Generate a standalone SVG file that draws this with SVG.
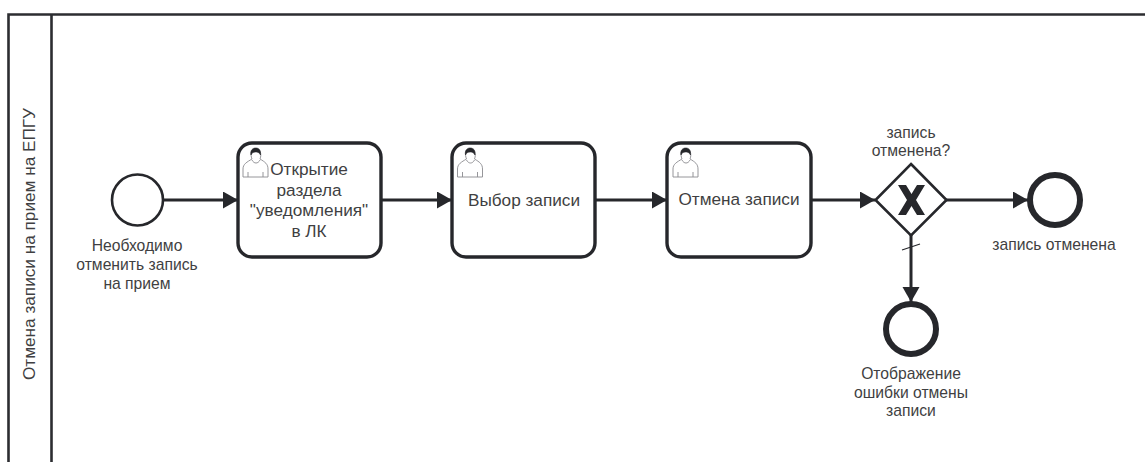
<svg xmlns="http://www.w3.org/2000/svg" width="1145" height="462" viewBox="0 0 1145 462">
<style>
text{font-family:"Liberation Sans",Arial,sans-serif;font-size:15.700px;fill:#3f3f42;text-anchor:middle}
.t{font-size:17.200px}
.s{fill:none;stroke:#2c2d31;stroke-width:2.6}
.task{fill:#fff;stroke:#26272b;stroke-width:3.4}
.flow{fill:none;stroke:#26272b;stroke-width:3;marker-end:url(#a)}
.ev{fill:#fff;stroke:#26272b;stroke-width:2.6}
.end{fill:#fff;stroke:#26272b;stroke-width:6}
.u{fill:#fff;stroke:#8a8a8e;stroke-width:.9}
.h{fill:#26272b;stroke:#26272b;stroke-width:.6}
</style>
<defs>
<marker id="a" markerUnits="userSpaceOnUse" markerWidth="16" markerHeight="18" refX="15" refY="8.5" orient="auto"><path d="M0 0L15 8.5L0 17Z" fill="#26272b"/></marker>
<g id="user">
<path class="u" d="M1 32V24C1 19 5 17 10 14C8 9 9 4 13.500 4C18 4 20 9 18 14C23 17 26 19 26 24V32Z"/>
<path class="h" d="M9 10C8 5 11 3 13.500 3C17 3 19 5 18.500 10C17 7 15 7 13.500 7C11 7 10 8 9 10Z"/>
<path class="u" d="M6 32V27M21 32V27M10 15C12 19 16 19 18 15"/>
</g>
</defs>
<g id="pool">
<path class="s" d="M8.500 462V14.500H1145M51.500 14.500V462"/>
<text class="t" transform="translate(35 244) rotate(-90)" x="0" y="0">Отмена записи на прием на ЕПГУ</text>
</g>
<g id="connectors">
<path class="flow" d="M164 200H238"/>
<path class="flow" d="M381 200H452"/>
<path class="flow" d="M595 200H667"/>
<path class="flow" d="M811 200H875"/>
<path class="flow" d="M946 200H1028"/>
<path class="flow" d="M911 235V302"/>
<path fill="none" stroke="#26272b" stroke-width="1.300" d="M902 250L920 244"/>
</g>
<g id="start">
<circle class="ev" cx="137.500" cy="200" r="25.500"/>
<text x="137" y="251">Необходимо</text><text x="137" y="270">отменить запись</text><text x="137" y="289">на прием</text>
</g>
<g id="task1">
<rect class="task" x="238" y="143" width="143" height="114" rx="14"/>
<use href="#user" x="242" y="145"/>
<text class="t" x="309" y="175">Открытие</text><text class="t" x="309" y="196">раздела</text><text class="t" x="309" y="216">"уведомления"</text><text class="t" x="309" y="237">в ЛК</text>
</g>
<g id="task2">
<rect class="task" x="452" y="143" width="143" height="114" rx="14"/>
<use href="#user" x="456.500" y="145"/>
<text class="t" x="524" y="206">Выбор записи</text>
</g>
<g id="task3">
<rect class="task" x="667" y="143" width="144" height="114" rx="14"/>
<use href="#user" x="672" y="145"/>
<text class="t" x="739" y="205">Отмена записи</text>
</g>
<g id="gateway">
<path class="ev" d="M911 164L946.500 200L911 235.500L875.500 200Z"/>
<path fill="#26272b" d="M898 185H906L911.500 194L917 185H925L916 200L925 215H917L911.500 206L906 215H898L907 200Z"/>
<text x="911" y="138">запись</text><text x="911" y="156">отменена?</text>
</g>
<g id="end1">
<circle class="end" cx="1055" cy="200" r="25"/>
<text x="1054" y="250">запись отменена</text>
</g>
<g id="end2">
<circle class="end" cx="911" cy="329" r="25"/>
<text x="911" y="379">Отображение</text><text x="911" y="398">ошибки отмены</text><text x="911" y="416">записи</text>
</g>
</svg>
